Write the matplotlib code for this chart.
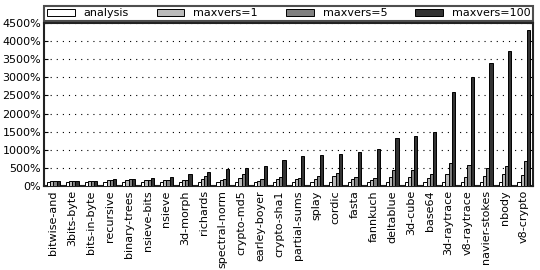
import matplotlib
matplotlib.use("Agg")
import matplotlib.pyplot as plt
import numpy as np

categories = ["bitwise-and", "3bits-byte", "bits-in-byte", "recursive", "binary-trees",
              "nsieve-bits", "nsieve", "3d-morph", "richards", "spectral-norm",
              "crypto-md5", "earley-boyer", "crypto-sha1", "partial-sums", "splay",
              "cordic", "fasta", "fannkuch", "deltablue", "3d-cube", "base64",
              "3d-raytrace", "v8-raytrace", "navier-stokes", "nbody", "v8-crypto"]

analysis = [100, 100, 100, 100, 100, 100, 100, 100, 100, 100, 100, 100, 100, 100, 100,
            100, 100, 100, 100, 100, 100, 100, 100, 100, 100, 100]
maxvers_1 = [150, 150, 150, 165, 170, 165, 170, 157, 194, 176, 222, 139, 185, 194, 194,
             269, 194, 176, 241, 259, 222, 333, 250, 287, 324, 315]
maxvers_5 = [150, 150, 150, 175, 185, 170, 180, 167, 269, 204, 343, 204, 241, 213, 278,
             370, 259, 222, 435, 454, 343, 640, 575, 500, 565, 704]
maxvers_100 = [150, 150, 150, 195, 190, 222, 250, 343, 398, 481, 500, 565, 713, 833, 843,
               889, 944, 1019, 1333, 1380, 1500, 2583, 3000, 3389, 3713, 4305]

series = [("analysis", analysis, "#ffffff"),
          ("maxvers=1", maxvers_1, "#bbbbbb"),
          ("maxvers=5", maxvers_5, "#808080"),
          ("maxvers=100", maxvers_100, "#333333")]

fig = plt.figure(figsize=(5.4, 2.7), dpi=100)
ax = fig.add_axes([0.0815, 0.311, 0.906, 0.604])

x = np.arange(len(categories))
w = 0.17
for k, (name, vals, col) in enumerate(series):
    ax.bar(x + (k - 1.5) * w, vals, w, color=col, edgecolor="black", linewidth=0.7,
           label=name, zorder=3)

ax.set_xlim(-0.5, len(categories) - 0.5)
ax.set_ylim(0, 4500)
ax.set_yticks(np.arange(0, 4501, 500))
ax.set_yticklabels([f"{v}%" for v in range(0, 4501, 500)], fontsize=8)
ax.set_xticks(x)
ax.set_xticklabels(categories, rotation=90, fontsize=8)
ax.tick_params(axis="x", length=0, pad=3)
ax.tick_params(axis="y", direction="in", right=True, length=3, pad=2)
ax.yaxis.grid(True, linestyle=(0, (1, 4.5)), color="black", linewidth=0.8, zorder=0)
for s in ax.spines.values():
    s.set_linewidth(1.5)
    s.set_color("#222222")

leg = fig.legend(loc="lower left", bbox_to_anchor=(0.0815, 0.922, 0.906, 0.074),
                 mode="expand", ncol=4, fontsize=8, frameon=True, fancybox=False,
                 borderaxespad=0, handlelength=2.5, handleheight=0.6,
                 borderpad=0.25, columnspacing=1.0)
leg.get_frame().set_edgecolor("#222222")
leg.get_frame().set_linewidth(1.5)

fig.savefig("out.png", dpi=100)
